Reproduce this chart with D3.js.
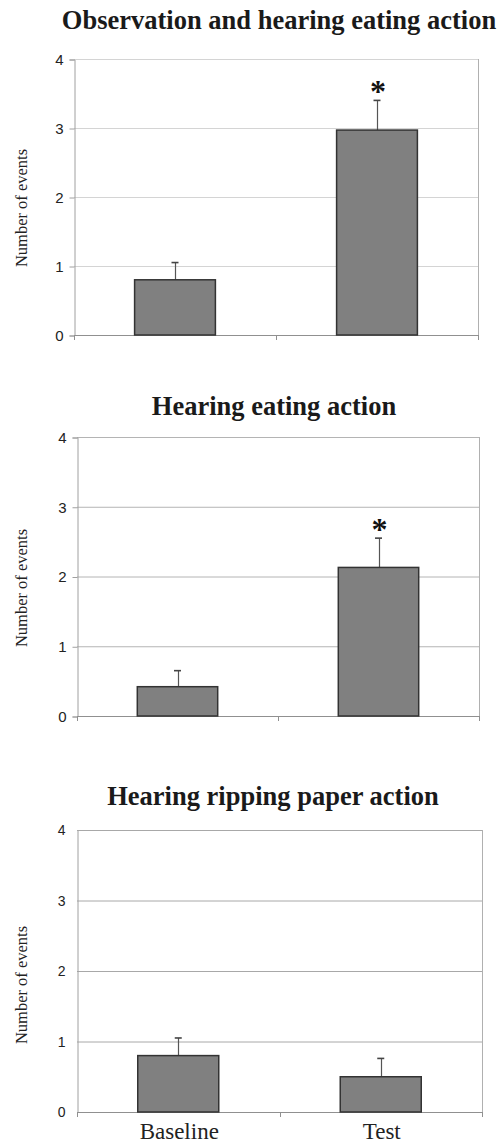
<!DOCTYPE html>
<html>
<head>
<meta charset="utf-8">
<script src="https://cdn.jsdelivr.net/npm/d3@7"></script>
<style>
  body { margin: 0; background: #fff; }
  svg { display: block; }
</style>
</head>
<body>
<svg id="chart" width="499" height="1144"></svg>
<script>
// donnees
var categories = ["Baseline", "Test"];
var yTicks = [0, 1, 2, 3, 4];

var titleObsHear = "Observation and hearing eating action";
var meanObsHear = [0.80, 2.97];
var errObsHear = [0.25, 0.43];
var sigObsHear = [false, true];

var titleHearEat = "Hearing eating action";
var meanHearEat = [0.42, 2.13];
var errHearEat = [0.23, 0.42];
var sigHearEat = [false, true];

var titleHearRip = "Hearing ripping paper action";
var meanHearRip = [0.80, 0.50];
var errHearRip = [0.25, 0.26];
var sigHearRip = [false, false];

var yLabel = "Number of events";

// mise en page de chaque panneau
var panels = [
  { title: titleObsHear, mean: meanObsHear, err: errObsHear, sig: sigObsHear,
    left: 74, right: 478, top: 59, bottom: 335, titleY: 29, titleX: 279,
    grid: "#d4d4d4", tickFont: 15, tickSize: 5, labelY: 208, xLabels: false },
  { title: titleHearEat, mean: meanHearEat, err: errHearEat, sig: sigHearEat,
    left: 77, right: 479, top: 437, bottom: 716, titleY: 415, titleX: 274,
    grid: "#b4b4b4", tickFont: 15, tickSize: 5, labelY: 588, xLabels: false },
  { title: titleHearRip, mean: meanHearRip, err: errHearRip, sig: sigHearRip,
    left: 77, right: 482, top: 830, bottom: 1112, titleY: 805, titleX: 273,
    grid: "#a8a8a8", tickFont: 14, tickSize: 0, labelY: 985, xLabels: true }
];

var svg = d3.select("#chart");

function drawPanel(p) {
  var g = svg.append("g");

  var x = d3.scaleBand().domain(categories)
    .range([p.left, p.right]).paddingInner(0.6).paddingOuter(0.3);
  var y = d3.scaleLinear().domain([0, 4]).range([p.bottom, p.top]);

  // titre
  g.append("text")
    .attr("x", p.titleX).attr("y", p.titleY)
    .attr("text-anchor", "middle")
    .style("font-family", "'Liberation Serif', 'Times New Roman', serif")
    .style("font-weight", "bold").style("font-size", "26.5px")
    .style("fill", "#1a1a1a")
    .text(p.title);

  // grille
  g.selectAll(".grid").data(yTicks.slice(1)).enter().append("line")
    .attr("x1", p.left).attr("x2", p.right)
    .attr("y1", function(d) { return y(d) + 0.5; })
    .attr("y2", function(d) { return y(d) + 0.5; })
    .style("stroke", p.grid).style("stroke-width", 1);

  // bord droit
  g.append("line")
    .attr("x1", p.right + 0.5).attr("x2", p.right + 0.5)
    .attr("y1", p.top).attr("y2", p.bottom)
    .style("stroke", "#b0b0b0");

  // axe y
  var ya = g.append("g")
    .attr("transform", "translate(" + (p.left + 0.5) + ",0.5)")
    .call(d3.axisLeft(y).tickValues(yTicks).tickSize(p.tickSize)
      .tickPadding(p.tickSize > 0 ? 6 : 12)
      .tickFormat(d3.format("d")));
  ya.select(".domain").style("stroke", "#a0a0a0");
  ya.selectAll(".tick line").style("stroke", "#a0a0a0");
  ya.selectAll(".tick text")
    .style("font-family", "'Liberation Sans', Arial, sans-serif")
    .style("font-size", p.tickFont + "px").style("fill", "#222");

  // axe x avec graduations entre categories
  var step = x.step();
  var bounds = [p.left, p.left + step, p.right];
  g.append("line")
    .attr("x1", p.left).attr("x2", p.right)
    .attr("y1", p.bottom + 0.5).attr("y2", p.bottom + 0.5)
    .style("stroke", "#909090");
  g.selectAll(".xtick").data(bounds).enter().append("line")
    .attr("x1", function(d) { return Math.round(d) + 0.5; })
    .attr("x2", function(d) { return Math.round(d) + 0.5; })
    .attr("y1", p.bottom).attr("y2", p.bottom + 5)
    .style("stroke", "#909090");

  var data = categories.map(function(c, i) {
    return { cat: c, v: p.mean[i], e: p.err[i], sig: p.sig[i] };
  });

  // barres d'erreur (demi haute seulement)
  g.selectAll(".err").data(data).enter().append("line")
    .attr("x1", function(d) { return Math.round(x(d.cat) + x.bandwidth() / 2) + 0.5; })
    .attr("x2", function(d) { return Math.round(x(d.cat) + x.bandwidth() / 2) + 0.5; })
    .attr("y1", function(d) { return y(d.v); })
    .attr("y2", function(d) { return y(d.v + d.e); })
    .style("stroke", "#555").style("stroke-width", 1.2);
  g.selectAll(".cap").data(data).enter().append("line")
    .attr("x1", function(d) { return x(d.cat) + x.bandwidth() / 2 - 3.5; })
    .attr("x2", function(d) { return x(d.cat) + x.bandwidth() / 2 + 3.5; })
    .attr("y1", function(d) { return y(d.v + d.e); })
    .attr("y2", function(d) { return y(d.v + d.e); })
    .style("stroke", "#444").style("stroke-width", 1.6);

  // barres
  g.selectAll(".bar").data(data).enter().append("rect")
    .attr("x", function(d) { return x(d.cat); })
    .attr("y", function(d) { return y(d.v); })
    .attr("width", x.bandwidth())
    .attr("height", function(d) { return y(0) - y(d.v); })
    .style("fill", "#808080").style("stroke", "#333").style("stroke-width", 1.5);

  // asterisque de significativite
  g.selectAll(".sig").data(data.filter(function(d) { return d.sig; })).enter()
    .append("text")
    .attr("x", function(d) { return x(d.cat) + x.bandwidth() / 2 + 1; })
    .attr("y", function(d) { return y(d.v + d.e) + 2; })
    .attr("text-anchor", "middle")
    .style("font-family", "'Liberation Serif', 'Times New Roman', serif")
    .style("font-weight", "bold").style("font-size", "32px")
    .style("fill", "#111")
    .text("*");

  // titre axe y
  g.append("text")
    .attr("transform", "translate(27," + p.labelY + ") rotate(-90)")
    .attr("text-anchor", "middle")
    .style("font-family", "'Liberation Serif', 'Times New Roman', serif")
    .style("font-size", "16.5px").style("fill", "#222")
    .text(yLabel);

  if (p.xLabels) {
    g.selectAll(".xlab").data(categories).enter().append("text")
      .attr("x", function(d) { return x(d) + x.bandwidth() / 2 + 1; })
      .attr("y", p.bottom + 27)
      .attr("text-anchor", "middle")
      .style("font-family", "'Liberation Serif', 'Times New Roman', serif")
      .style("font-size", "23px").style("fill", "#222")
      .text(function(d) { return d; });
  }
}

panels.forEach(drawPanel);
</script>
</body>
</html>
